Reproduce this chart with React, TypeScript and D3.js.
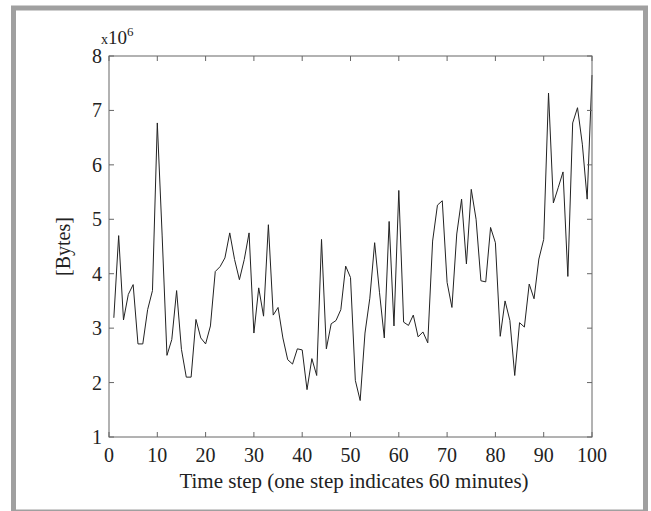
import * as d3 from "d3";

// traffic per time step, in units of 10^6 bytes (steps 1..100)
const bytesMillions = [
  3.19, 4.7, 3.15, 3.62, 3.8, 2.71, 2.71, 3.34, 3.69, 6.77,
  4.71, 2.5, 2.79, 3.69, 2.61, 2.1, 2.1, 3.16, 2.82, 2.71,
  3.04, 4.04, 4.13, 4.29, 4.75, 4.26, 3.89, 4.26, 4.75, 2.91,
  3.74, 3.22, 4.9, 3.24, 3.38, 2.82, 2.42, 2.34, 2.62, 2.6,
  1.87, 2.44, 2.13, 4.63, 2.62, 3.08, 3.14, 3.34, 4.14, 3.93,
  2.04, 1.67, 2.91, 3.55, 4.57, 3.66, 2.82, 4.96, 3.04, 5.53,
  3.11, 3.05, 3.24, 2.84, 2.93, 2.73, 4.6, 5.26, 5.34, 3.84,
  3.38, 4.73, 5.37, 4.18, 5.55, 5.0, 3.87, 3.85, 4.85, 4.57,
  2.85, 3.5, 3.14, 2.13, 3.1, 3.02, 3.81, 3.54, 4.27, 4.63,
  7.32, 5.3, 5.58, 5.87, 3.95, 6.77, 7.05, 6.38, 5.37, 7.65,
];

const xTicks = [0, 10, 20, 30, 40, 50, 60, 70, 80, 90, 100];
const yTicks = [1, 2, 3, 4, 5, 6, 7, 8];

const W = 651;
const H = 511;
const left = 109;
const right = 592;
const top = 56;
const bottom = 437;
const font = "'Liberation Serif', 'Times New Roman', serif";
const axisColor = "#666";

export default function App() {
  const x = d3.scaleLinear().domain([0, 100]).range([left, right]);
  const y = d3.scaleLinear().domain([1, 8]).range([bottom, top]);

  const line = d3
    .line<number>()
    .x((d, i) => x(i + 1))
    .y((d) => y(d));

  const tick = 5;

  return (
    <svg
      width={W}
      height={H}
      style={{ position: "absolute", left: 0, top: 0, background: "#fff" }}
      fontFamily={font}
    >
      {/* gray frame */}
      <rect
        x={13.5}
        y={8}
        width={632}
        height={504}
        fill="none"
        stroke="#a0a0a0"
        strokeWidth={5}
      />

      {/* data line */}
      <path d={line(bytesMillions) || ""} fill="none" stroke="#222" strokeWidth={1} />

      {/* box */}
      <rect
        x={left}
        y={top}
        width={right - left}
        height={bottom - top}
        fill="none"
        stroke={axisColor}
        strokeWidth={1}
      />

      {xTicks.map((t) => (
        <g key={"x" + t}>
          <line x1={x(t)} x2={x(t)} y1={bottom} y2={bottom - tick} stroke={axisColor} />
          <line x1={x(t)} x2={x(t)} y1={top} y2={top + tick} stroke={axisColor} />
          <text x={x(t)} y={462} fontSize={20} textAnchor="middle" fill="#222">
            {t}
          </text>
        </g>
      ))}

      {yTicks.map((t) => (
        <g key={"y" + t}>
          <line x1={left} x2={left + tick} y1={y(t)} y2={y(t)} stroke={axisColor} />
          <line x1={right} x2={right - tick} y1={y(t)} y2={y(t)} stroke={axisColor} />
          <text x={102} y={y(t)} dy="0.35em" fontSize={20} textAnchor="end" fill="#222">
            {t}
          </text>
        </g>
      ))}

      {/* exponent label */}
      <text x={101} y={44} fill="#222">
        <tspan fontSize={14}>x</tspan>
        <tspan fontSize={19}>10</tspan>
        <tspan fontSize={13} dy={-8}>6</tspan>
      </text>

      {/* axis titles */}
      <text
        transform={`translate(70,${(top + bottom) / 2}) rotate(-90)`}
        fontSize={20}
        textAnchor="middle"
        fill="#222"
      >
        [Bytes]
      </text>
      <text x={354} y={488} fontSize={21} textAnchor="middle" fill="#222">
        Time step (one step indicates 60 minutes)
      </text>
    </svg>
  );
}
